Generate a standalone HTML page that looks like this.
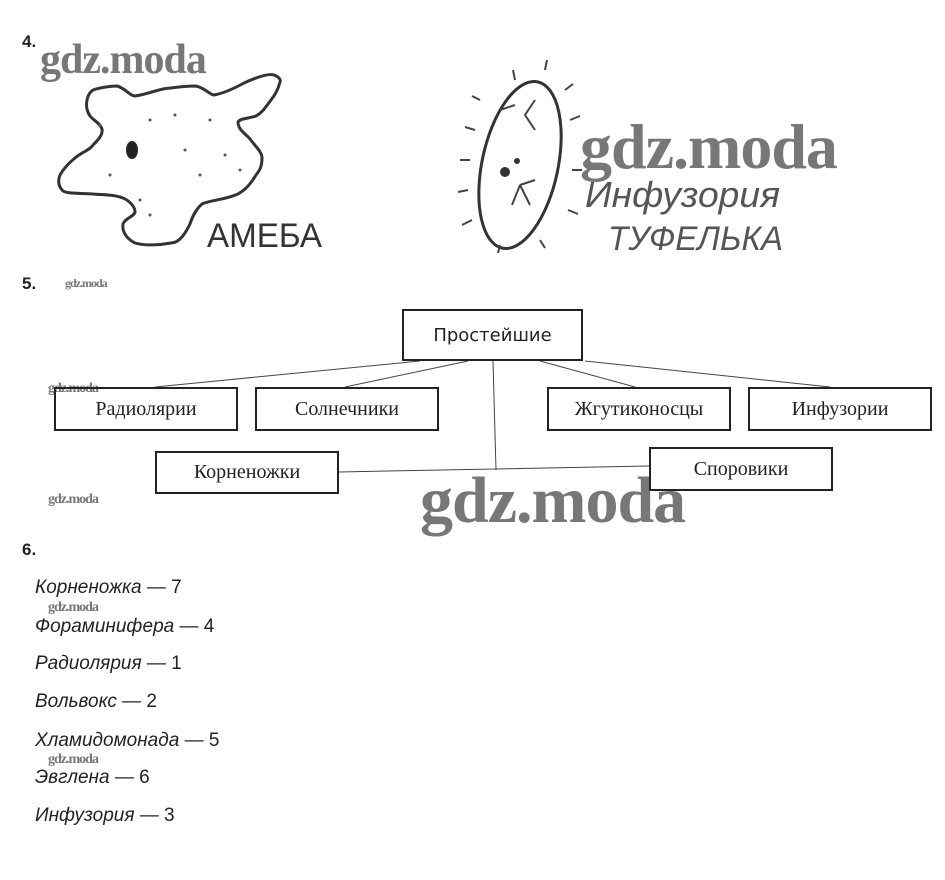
<!DOCTYPE html>
<html><head><meta charset="utf-8"><style>
body{margin:0;background:#fff;width:945px;height:880px;position:relative;overflow:hidden;font-family:"Liberation Sans","DejaVu Sans",sans-serif}
.a{position:absolute}
.n{position:absolute;font-size:17px;font-weight:bold;color:#222}
.box{position:absolute;border:2px solid #222;box-sizing:border-box;display:flex;align-items:center;justify-content:center;font-family:"Liberation Serif",serif;font-size:20px;color:#222}
.wm{position:absolute;font-family:"Liberation Serif",serif;font-weight:bold;color:#777;letter-spacing:-1px}
.t{position:absolute;left:35px;font-size:19px;color:#222}
.t i{font-style:italic}
</style></head><body>
<div class="n" style="left:22px;top:32px">4.</div>
<div class="n" style="left:22px;top:274px">5.</div>
<div class="n" style="left:22px;top:540px">6.</div>
<svg class="a" style="left:0;top:0" width="945" height="880">
<path d="M93,90 C105,86 117,86 117,86 C125,88 130,96 135,96 C150,94 160,88 171,88 C185,86 190,86 196,86 C205,88 210,95 214,95 C225,93 235,88 244,83 C255,78 268,73 274,75 C282,78 280,82 280,82 C278,90 275,95 271,100 C265,108 262,113 256,116 C248,119 240,118 238,122 C238,130 246,134 250,139 C256,147 262,152 262,158 C262,166 260,170 256,175 C250,185 245,190 238,194 C225,200 210,200 202,204 C195,210 192,218 190,224 C186,232 180,243 171,243 C160,245 145,246 135,243 C125,238 122,230 123,224 C125,218 136,216 135,211 C134,205 128,200 123,198 C113,194 100,195 93,194 C80,193 68,194 63,191 C58,186 58,180 60,175 C64,168 70,162 75,158 C82,152 90,150 93,145 C98,140 103,135 102,129 C100,123 93,120 90,116 C86,110 86,105 87,100 C88,95 90,92 93,90 Z" fill="none" stroke="#333" stroke-width="3"/>
<ellipse cx="132" cy="150" rx="6" ry="9" fill="#222"/>
<g fill="#555"><circle cx="100" cy="125" r="1.5"/><circle cx="150" cy="120" r="1.5"/><circle cx="175" cy="115" r="1.5"/><circle cx="210" cy="120" r="1.5"/><circle cx="185" cy="150" r="1.5"/><circle cx="225" cy="155" r="1.5"/><circle cx="110" cy="175" r="1.5"/><circle cx="200" cy="175" r="1.5"/><circle cx="140" cy="200" r="1.5"/><circle cx="150" cy="215" r="1.5"/><circle cx="240" cy="170" r="1.5"/></g>
<text x="207" y="247" font-family="Liberation Sans,sans-serif" font-size="34" fill="#333" textLength="115" lengthAdjust="spacingAndGlyphs">АМЕБА</text>
<ellipse cx="520" cy="165" rx="38" ry="85" transform="rotate(12 520 165)" fill="none" stroke="#333" stroke-width="3"/>
<circle cx="505" cy="172" r="5" fill="#333"/><circle cx="517" cy="161" r="3" fill="#333"/>
<path d="M520,185 l10,20 m-10,-20 l-8,20 m8,-20 l15,-5 M535,100 l-10,15 l10,15 M500,110 l15,-5" stroke="#444" stroke-width="2" fill="none"/>
<g stroke="#444" stroke-width="2"><path d="M480,100 l-8,-4 M475,130 l-10,-3 M470,160 l-10,0 M468,190 l-10,2 M472,220 l-10,5 M565,90 l8,-6 M570,120 l10,-4 M572,170 l10,0 M568,210 l10,4 M540,240 l5,8 M500,245 l-2,8 M545,70 l2,-10 M515,80 l-2,-10"/></g>
<text x="585" y="207" font-family="Liberation Sans,sans-serif" font-style="italic" font-size="36" fill="#555" textLength="195" lengthAdjust="spacingAndGlyphs">Инфузория</text>
<text x="608" y="250" font-family="Liberation Sans,sans-serif" font-style="italic" font-size="34" fill="#555" textLength="175" lengthAdjust="spacingAndGlyphs">ТУФЕЛЬКА</text>
<g stroke="#444" stroke-width="1" fill="none">
<line x1="420" y1="361" x2="155" y2="387"/>
<line x1="468" y1="361" x2="345" y2="387"/>
<line x1="493" y1="361" x2="496" y2="470"/>
<line x1="540" y1="361" x2="635" y2="387"/>
<line x1="585" y1="361" x2="830" y2="387"/>
<line x1="339" y1="472" x2="649" y2="466"/>
</g>
</svg>
<div class="wm" style="left:40px;top:36px;font-size:42px">gdz.moda</div>
<div class="wm" style="left:580px;top:110px;font-size:64px">gdz.moda</div>
<div class="wm" style="left:65px;top:276px;font-size:12px">gdz.moda</div>
<div class="wm" style="left:48px;top:381px;font-size:14px">gdz.moda</div>
<div class="wm" style="left:48px;top:492px;font-size:14px">gdz.moda</div>
<div class="wm" style="left:420px;top:463px;font-size:66px">gdz.moda</div>
<div class="wm" style="left:48px;top:600px;font-size:14px">gdz.moda</div>
<div class="wm" style="left:48px;top:752px;font-size:14px">gdz.moda</div>
<div class="box" style="left:402px;top:309px;width:181px;height:52px;font-family:'DejaVu Sans',sans-serif;font-size:18px">Простейшие</div>
<div class="box" style="left:54px;top:387px;width:184px;height:44px">Радиолярии</div>
<div class="box" style="left:255px;top:387px;width:184px;height:44px">Солнечники</div>
<div class="box" style="left:547px;top:387px;width:184px;height:44px">Жгутиконосцы</div>
<div class="box" style="left:748px;top:387px;width:184px;height:44px">Инфузории</div>
<div class="box" style="left:155px;top:451px;width:184px;height:43px">Корненожки</div>
<div class="box" style="left:649px;top:447px;width:184px;height:44px;background:#fff">Споровики</div>
<div class="t" style="top:577px"><i>Корненожка</i> — 7</div>
<div class="t" style="top:616px"><i>Фораминифера</i> — 4</div>
<div class="t" style="top:653px"><i>Радиолярия</i> — 1</div>
<div class="t" style="top:691px"><i>Вольвокс</i> — 2</div>
<div class="t" style="top:730px"><i>Хламидомонада</i> — 5</div>
<div class="t" style="top:767px"><i>Эвглена</i> — 6</div>
<div class="t" style="top:805px"><i>Инфузория</i> — 3</div>
</body></html>
